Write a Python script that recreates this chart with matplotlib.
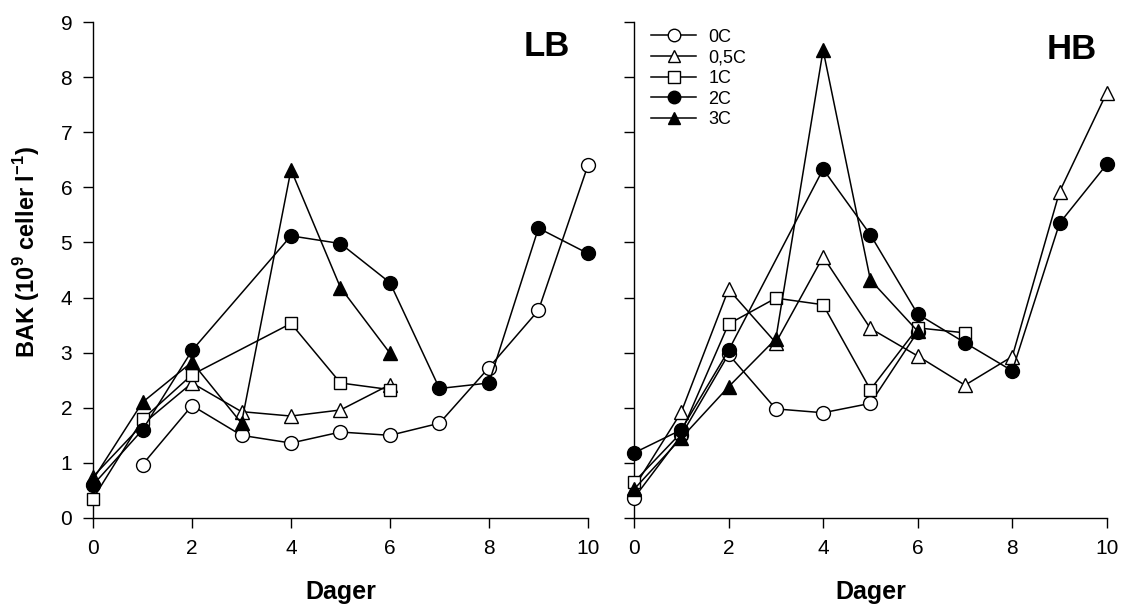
import numpy as np
import matplotlib
matplotlib.use("Agg")
import matplotlib.pyplot as plt

plt.rcParams['font.family'] = ['Liberation Sans', 'DejaVu Sans']
plt.rcParams['mathtext.fontset'] = 'custom'
plt.rcParams['mathtext.rm'] = 'Liberation Sans'
plt.rcParams['mathtext.bf'] = 'Liberation Sans:bold'

labels = ['0C', '0,5C', '1C', '2C', '3C']

# LB panel
lb_days = {
    '0C':   [1, 2, 3, 4, 5, 6, 7, 8, 9, 10],
    '0,5C': [0, 1, 2, 3, 4, 5, 6],
    '1C':   [0, 1, 2, 4, 5, 6],
    '2C':   [0, 1, 2, 4, 5, 6, 7, 8, 9, 10],
    '3C':   [0, 1, 2, 3, 4, 5, 6],
}
lb_vals = {
    '0C':   [0.97, 2.04, 1.50, 1.36, 1.56, 1.50, 1.72, 2.73, 3.77, 6.40],
    '0,5C': [0.75, 1.70, 2.45, 1.93, 1.85, 1.96, 2.42],
    '1C':   [0.35, 1.79, 2.60, 3.53, 2.45, 2.33],
    '2C':   [0.60, 1.60, 3.04, 5.12, 4.98, 4.27, 2.35, 2.45, 5.26, 4.80],
    '3C':   [0.70, 2.10, 2.83, 1.72, 6.32, 4.18, 2.99],
}

# HB panel
hb_days = {
    '0C':   [0, 1, 2, 3, 4, 5, 6],
    '0,5C': [0, 1, 2, 3, 4, 5, 6, 7, 8, 9, 10],
    '1C':   [0, 1, 2, 3, 4, 5, 6, 7],
    '2C':   [0, 1, 2, 4, 5, 6, 7, 8, 9, 10],
    '3C':   [0, 1, 2, 3, 4, 5, 6],
}
hb_vals = {
    '0C':   [0.36, 1.50, 2.97, 1.98, 1.91, 2.08, 3.38],
    '0,5C': [0.55, 1.92, 4.15, 3.18, 4.74, 3.44, 2.94, 2.41, 2.93, 5.92, 7.72],
    '1C':   [0.65, 1.55, 3.52, 3.99, 3.87, 2.33, 3.45, 3.36],
    '2C':   [1.18, 1.60, 3.04, 6.33, 5.14, 3.70, 3.18, 2.67, 5.35, 6.42],
    '3C':   [0.52, 1.45, 2.38, 3.25, 8.49, 4.32, 3.39],
}

styles = {
    '0C':   dict(marker='o', mfc='white'),
    '0,5C': dict(marker='^', mfc='white'),
    '1C':   dict(marker='s', mfc='white'),
    '2C':   dict(marker='o', mfc='black'),
    '3C':   dict(marker='^', mfc='black'),
}
msize = {'o': 10, '^': 10, 's': 9}

fig = plt.figure(figsize=(11.47, 6.12), dpi=100)
ax1 = fig.add_axes([0.0811, 0.1536, 0.4315, 0.8104])
ax2 = fig.add_axes([0.5527, 0.1536, 0.4123, 0.8104])

panels = [(ax1, lb_days, lb_vals, 'LB', 0.964, 0.95),
          (ax2, hb_days, hb_vals, 'HB', 0.979, 0.944)]
for ax, days, vals, tag, tx, ty in panels:
    for lab in labels:
        st = styles[lab]
        ax.plot(days[lab], vals[lab], color='black', lw=1.1, marker=st['marker'],
                mfc=st['mfc'], mec='black', mew=1.0, ms=msize[st['marker']],
                label=lab, clip_on=False, zorder=3)
    ax.set_xlim(0, 10)
    ax.set_ylim(0, 9)
    ax.set_xticks(range(0, 11, 2))
    ax.set_yticks(range(0, 10))
    for s in ['top', 'right']:
        ax.spines[s].set_visible(False)
    for s in ['left', 'bottom']:
        ax.spines[s].set_linewidth(1.0)
    ax.tick_params(direction='out', length=7, width=1, labelsize=15, pad=8)
    ax.set_xlabel('Dager', fontsize=18, fontweight='bold', labelpad=16)
    ax.text(tx, ty, tag, transform=ax.transAxes, ha='right', va='center',
            fontsize=25, fontweight='bold')

ax2.tick_params(labelleft=False)
ax1.set_ylabel(r'BAK (10$^{\mathbf{9}}$ celler l$^{\mathbf{-1}}$)', fontsize=17,
               fontweight='bold')
ax1.yaxis.set_label_coords(-0.103, 0.536)

ax2.legend(loc='upper left', bbox_to_anchor=(0.01, 1.012), frameon=False, fontsize=13,
           handlelength=2.5, handletextpad=0.65, labelspacing=0.2, borderaxespad=0.3,
           markerscale=0.9)

fig.savefig('out.png', dpi=100)
